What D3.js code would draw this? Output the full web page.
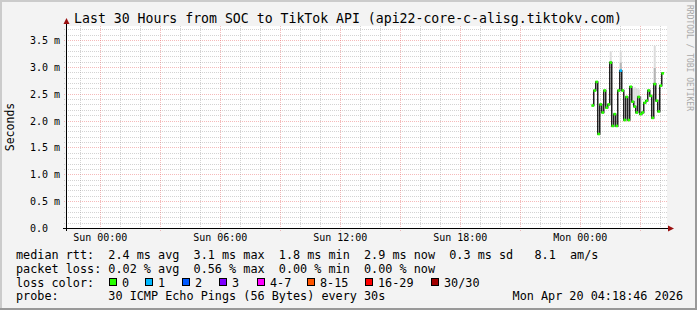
<!DOCTYPE html>
<html>
<head>
<meta charset="utf-8">
<script src="https://d3js.org/d3.v7.min.js"></script>
<style>
    body { margin: 0; background: #f3f3f3; }
    svg { display: block; font-family: "DejaVu Sans Mono", monospace; }
    text { white-space: pre; }
</style>
</head>
<body>
<div id="chart"></div>
<script>
// time range of the graph
const graphStart = "2026-04-18T22:18:46";
const graphEnd = "2026-04-20T04:18:46";

// end of each 6 min sample (Mon Apr 20)
const sampleTimes = ["00:42", "00:48", "00:54", "01:00", "01:06", "01:12", "01:18", "01:24", "01:30",
    "01:36", "01:42", "01:48", "01:54", "02:00", "02:06", "02:12", "02:18", "02:24", "02:30", "02:36",
    "02:42", "02:48", "02:54", "03:00", "03:06", "03:12", "03:18", "03:24", "03:30", "03:36", "03:42",
    "03:48", "03:54", "04:00", "04:06", "04:12"];

// median rtt in ms
const medianMs = [2.28, 2.56, 2.72, 1.75, 2.30, 2.15, 2.56, 2.24, 2.30, 3.08, 1.90, 2.12, 1.90, 2.56,
    2.93, 2.56, 2.01, 2.44, 2.01, 2.63, 2.35, 2.26, 2.15, 2.44, 2.12, 2.15, 2.33, 2.37, 2.56, 2.46,
    2.05, 2.68, 2.37, 2.17, 2.65, 2.88];

// upper edge of the light smoke and of the darker smoke core, ms
const smokeTopMs = [2.32, 2.56, 2.72, 1.75, 2.30, 2.15, 2.56, 2.24, 2.30, 3.29, 1.90, 2.12, 1.90, 2.56,
    3.29, 2.56, 2.01, 2.44, 2.01, 2.63, 2.60, 2.62, 2.60, 2.58, 2.45, 2.15, 2.33, 2.37, 2.56, 2.46,
    2.05, 3.39, 2.37, 2.17, 2.65, 2.88];
const smokeCoreMs = [2.28, 2.56, 2.72, 1.75, 2.30, 2.15, 2.56, 2.24, 2.30, 3.08, 1.90, 2.12, 1.90, 2.56,
    3.08, 2.56, 2.01, 2.44, 2.01, 2.63, 2.35, 2.26, 2.15, 2.44, 2.12, 2.15, 2.33, 2.37, 2.56, 2.46,
    2.05, 2.98, 2.37, 2.17, 2.65, 2.88];

// loss class of each sample (index into lossColors)
const lossLevel = [0, 0, 0, 0, 0, 0, 0, 0, 0, 0, 0, 0, 0, 0, 1, 0, 0, 0, 0, 0, 0, 0, 0, 0, 0, 0, 0, 0,
    0, 0, 0, 0, 0, 0, 0, 0];

const lossLabels = ["0", "1", "2", "3", "4-7", "8-15", "16-29", "30/30"];
const lossColors = ["#26ff00", "#00b8ff", "#0059ff", "#7e00ff", "#ff00ff", "#ff5500", "#ff0000", "#a10000"];

const yTicks = [0, 0.5, 1.0, 1.5, 2.0, 2.5, 3.0, 3.5];
const yTickLabels = ["0.0", "0.5 m", "1.0 m", "1.5 m", "2.0 m", "2.5 m", "3.0 m", "3.5 m"];
const xTickTimes = ["2026-04-19T00:00:00", "2026-04-19T06:00:00", "2026-04-19T12:00:00",
    "2026-04-19T18:00:00", "2026-04-20T00:00:00"];
const xTickLabels = ["Sun 00:00", "Sun 06:00", "Sun 12:00", "Sun 18:00", "Mon 00:00"];

const titleText = "Last 30 Hours from SOC to TikTok API (api22-core-c-alisg.tiktokv.com)";
const rttLine = "median rtt:  2.4 ms avg  3.1 ms max  1.8 ms min  2.9 ms now  0.3 ms sd   8.1  am/s";
const lossLine = "packet loss: 0.02 % avg  0.56 % max  0.00 % min  0.00 % now";
const probeLine = "probe:       30 ICMP Echo Pings (56 Bytes) every 30s";
const dateText = "Mon Apr 20 04:18:46 2026";

class SmokeGraph {
    constructor() {
        this.width = 697;
        this.height = 310;
        this.plot = { left: 66, right: 666, top: 26, bottom: 228 };
        this.svg = null;
        this.x = null;
        this.y = null;
    }

    createSVG() {
        this.svg = d3.select("#chart")
            .append("svg")
            .attr("width", this.width)
            .attr("height", this.height);
    }

    frame() {
        const s = this.svg;
        s.append("rect").attr("width", this.width).attr("height", this.height).attr("fill", "#f3f3f3");
        // 3d border
        s.append("rect").attr("x", 0).attr("y", 0).attr("width", this.width).attr("height", 2).attr("fill", "#cbcbcb");
        s.append("rect").attr("x", 0).attr("y", 0).attr("width", 2).attr("height", this.height).attr("fill", "#cbcbcb");
        s.append("rect").attr("x", 0).attr("y", this.height - 2).attr("width", this.width).attr("height", 2).attr("fill", "#999999");
        s.append("rect").attr("x", this.width - 2).attr("y", 0).attr("width", 2).attr("height", this.height).attr("fill", "#999999");

        s.append("rect")
            .attr("x", this.plot.left)
            .attr("y", this.plot.top)
            .attr("width", this.plot.right - this.plot.left + 1)
            .attr("height", this.plot.bottom - this.plot.top)
            .attr("fill", "#ffffff");
    }

    init() {
        const p = this.plot;
        const parse = d3.timeParse("%Y-%m-%dT%H:%M:%S");
        const t0 = parse(graphStart), t1 = parse(graphEnd);

        this.x = d3.scaleTime().domain([t0, t1]).range([p.left, p.right]);
        this.y = d3.scaleLinear().domain([0, 3.761]).range([p.bottom, p.top]);
        const x = this.x, y = this.y;
        const px = v => Math.round(v) + 0.5;

        this.frame();

        // grid
        const grid = this.svg.append("g");
        const minorCol = "rgba(140,140,140,0.38)";
        const majorCol = "rgba(230,90,90,0.42)";

        d3.range(0, 3.76, 0.1).forEach(v => {
            const major = Math.abs(v * 2 - Math.round(v * 2)) < 1e-6;
            grid.append("line")
                .attr("x1", p.left - 2).attr("x2", p.right + 1)
                .attr("y1", px(y(v))).attr("y2", px(y(v)))
                .attr("stroke", major ? majorCol : minorCol)
                .attr("stroke-dasharray", "1,1");
        });

        x.ticks(d3.timeHour.every(1)).forEach(t => {
            const major = t.getHours() % 3 === 0;
            grid.append("line")
                .attr("x1", px(x(t))).attr("x2", px(x(t)))
                .attr("y1", p.top).attr("y2", p.bottom + (major ? 3 : 2))
                .attr("stroke", major ? majorCol : minorCol)
                .attr("stroke-dasharray", "1,1");
        });

        // smoke
        const times = sampleTimes.map(s => parse("2026-04-20T" + s + ":00"));
        const starts = times.map(t => d3.timeMinute.offset(t, -6));
        const smoke = this.svg.append("g");
        times.forEach((t, i) => {
            const x0 = x(starts[i]), x1 = x(t);
            if (smokeTopMs[i] > medianMs[i]) {
                smoke.append("rect")
                    .attr("x", x0).attr("width", x1 - x0)
                    .attr("y", y(smokeTopMs[i]))
                    .attr("height", y(medianMs[i]) - y(smokeTopMs[i]))
                    .attr("fill", "#dcdcdc");
            }
            if (smokeCoreMs[i] > medianMs[i]) {
                smoke.append("rect")
                    .attr("x", x0).attr("width", x1 - x0)
                    .attr("y", y(smokeCoreMs[i]))
                    .attr("height", y(medianMs[i]) - y(smokeCoreMs[i]))
                    .attr("fill", "#b4b4b4");
            }
        });

        // median line
        const pts = starts.map((t, i) => ({ t: t, v: medianMs[i] }));
        pts.push({ t: times[times.length - 1], v: medianMs[medianMs.length - 1] });
        const line = d3.line()
            .x(d => x(d.t))
            .y(d => y(d.v))
            .curve(d3.curveStepAfter);
        this.svg.append("path")
            .datum(pts)
            .attr("d", line)
            .attr("fill", "none")
            .attr("stroke", "#202020")
            .attr("stroke-width", 1.5);

        // loss coloured median marks
        this.svg.append("g").selectAll("rect")
            .data(times)
            .enter()
            .append("rect")
            .attr("x", (d, i) => x(starts[i]) - 0.3)
            .attr("width", (d, i) => x(d) - x(starts[i]) + 0.6)
            .attr("y", (d, i) => y(medianMs[i]) - 1.3)
            .attr("height", 2.6)
            .attr("fill", (d, i) => lossColors[lossLevel[i]]);

        // axes
        const axis = this.svg.append("g");
        axis.append("line")
            .attr("x1", p.left - 3).attr("x2", p.right + 3)
            .attr("y1", px(y(0))).attr("y2", px(y(0)))
            .attr("stroke", "#000");
        axis.append("line")
            .attr("x1", p.left + 0.5).attr("x2", p.left + 0.5)
            .attr("y1", p.bottom + 3).attr("y2", p.top - 3)
            .attr("stroke", "#000");
        axis.append("path")
            .attr("d", `M${p.right + 2},${y(0) - 2.5}L${p.right + 8},${y(0) + 0.5}L${p.right + 2},${y(0) + 3.5}Z`)
            .attr("fill", "#9a1010");
        axis.append("path")
            .attr("d", `M${p.left - 2.5},${p.top - 2}L${p.left + 0.5},${p.top - 8}L${p.left + 3.5},${p.top - 2}Z`)
            .attr("fill", "#9a1010");

        // y tick labels
        this.svg.append("g").selectAll("text")
            .data(yTicks)
            .enter()
            .append("text")
            .attr("x", 30)
            .attr("y", d => Math.round(y(d)) + 4)
            .attr("font-size", "10px")
            .attr("fill", "#000")
            .text((d, i) => yTickLabels[i]);

        // x tick labels
        this.svg.append("g").selectAll("text")
            .data(xTickTimes)
            .enter()
            .append("text")
            .attr("x", d => x(parse(d)) + 0.5)
            .attr("y", 240.5)
            .attr("font-size", "10px")
            .attr("text-anchor", "middle")
            .text((d, i) => xTickLabels[i]);

        // titles
        this.svg.append("text")
            .attr("x", 348)
            .attr("y", 23)
            .attr("text-anchor", "middle")
            .attr("font-size", "13.2px")
            .text(titleText);

        this.svg.append("text")
            .attr("transform", "translate(14," + ((p.top + p.bottom) / 2) + ") rotate(-90)")
            .attr("text-anchor", "middle")
            .attr("font-size", "11.5px")
            .text("Seconds");

        this.svg.append("text")
            .attr("transform", "translate(687,5) rotate(90)")
            .attr("font-size", "8px")
            .attr("fill", "#a8a8a8")
            .text("RRDTOOL / TOBI OETIKER");

        this.legend();
    }

    legend() {
        const g = this.svg.append("g").attr("font-size", "11.8px").attr("fill", "#000");
        g.append("text").attr("x", 16).attr("y", 259).text(rttLine);
        g.append("text").attr("x", 16).attr("y", 273).text(lossLine);
        g.append("text").attr("x", 16).attr("y", 286.5).text("loss color:");
        g.append("text").attr("x", 16).attr("y", 300).text(probeLine);
        g.append("text").attr("x", 683).attr("y", 300).attr("text-anchor", "end").text(dateText);

        const boxX = [109, 145, 182, 219, 257, 307, 365, 431];
        const items = g.selectAll(".loss-item")
            .data(lossLabels)
            .enter()
            .append("g")
            .attr("class", "loss-item")
            .attr("transform", (d, i) => `translate(${boxX[i]},0)`);
        items.append("rect")
            .attr("x", 0.5).attr("y", 278.5)
            .attr("width", 7).attr("height", 7)
            .attr("fill", (d, i) => lossColors[i])
            .attr("stroke", "#000");
        items.append("text")
            .attr("x", 13)
            .attr("y", 286.5)
            .text(d => d);
    }
}

const graph = new SmokeGraph();
graph.createSVG();
graph.init();
</script>
</body>
</html>
